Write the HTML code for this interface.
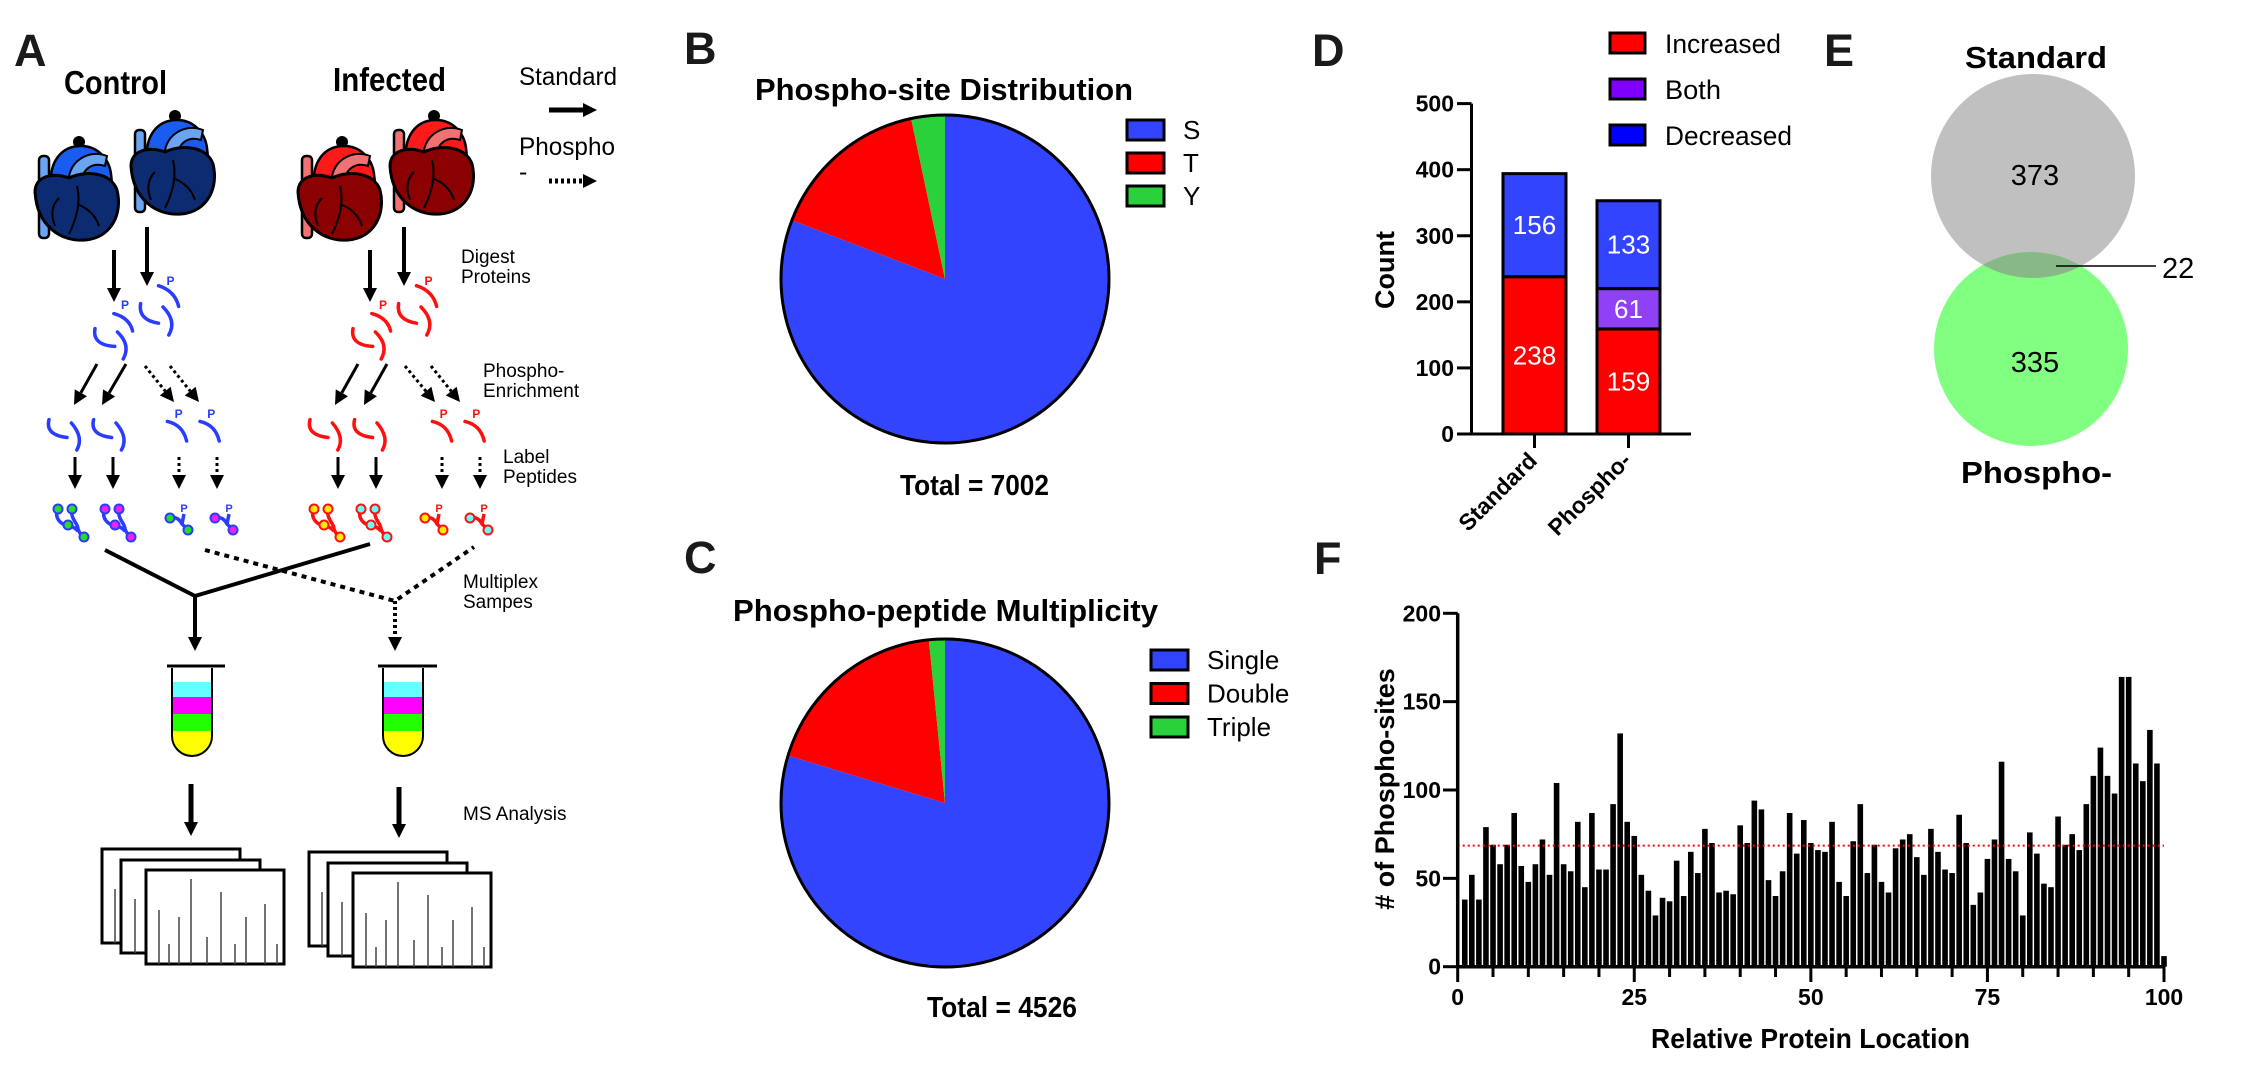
<!DOCTYPE html>
<html><head><meta charset="utf-8"><title>Phosphoproteomics figure</title>
<style>
html,body{margin:0;padding:0;background:#fff;}
svg{display:block;font-family:"Liberation Sans",Arial,sans-serif;}
.b{font-weight:bold;}
</style></head>
<body>
<svg id="fig" width="2250" height="1076" viewBox="0 0 2250 1076" xmlns="http://www.w3.org/2000/svg">
<rect width="2250" height="1076" fill="#fff"/>
<defs>
  <clipPath id="tubeL"><path d="M172,668 L172,736 A20,20 0 0 0 212,736 L212,668 Z"/></clipPath>
  <clipPath id="tubeR"><path d="M383,668 L383,736 A20,20 0 0 0 423,736 L423,668 Z"/></clipPath>
  <clipPath id="grayC"><circle cx="2033" cy="176" r="102"/></clipPath>
</defs>

<text x="14" y="66" font-size="45" class="b" fill="#1a1a1a">A</text>
<text x="684" y="64" font-size="45" class="b" fill="#1a1a1a">B</text>
<text x="684" y="573" font-size="45" class="b" fill="#1a1a1a">C</text>
<text x="1312" y="66" font-size="45" class="b" fill="#1a1a1a">D</text>
<text x="1824" y="66" font-size="45" class="b" fill="#1a1a1a">E</text>
<text x="1314" y="574" font-size="45" class="b" fill="#1a1a1a">F</text>

<g id="panelA">
<text x="64" y="94" font-size="33" class="b" textLength="103" lengthAdjust="spacingAndGlyphs">Control</text>
<text x="333" y="91" font-size="33" class="b" textLength="113" lengthAdjust="spacingAndGlyphs">Infected</text>
<text x="519" y="85" font-size="25" textLength="98" lengthAdjust="spacingAndGlyphs">Standard</text>
<text x="519" y="155" font-size="25" textLength="96" lengthAdjust="spacingAndGlyphs">Phospho</text>
<text x="519" y="180" font-size="25">-</text>
<text font-size="19"><tspan x="461" y="263">Digest</tspan><tspan x="461" y="283">Proteins</tspan></text>
<text font-size="19"><tspan x="483" y="377">Phospho-</tspan><tspan x="483" y="397">Enrichment</tspan></text>
<text font-size="19"><tspan x="503" y="463">Label</tspan><tspan x="503" y="483">Peptides</tspan></text>
<text font-size="19"><tspan x="463" y="588">Multiplex</tspan><tspan x="463" y="608">Sampes</tspan></text>
<text x="463" y="820" font-size="19">MS Analysis</text>

<polyline points="105,550 195,596 370,544" fill="none" stroke="#000" stroke-width="4"/>
<polyline points="205,550 395,601 474,547" fill="none" stroke="#000" stroke-width="4" stroke-dasharray="5,5"/>

<g>
  <g clip-path="url(#tubeL)">
    <rect x="170" y="668" width="45" height="14" fill="#fff"/>
    <rect x="170" y="682" width="45" height="15" fill="#66ffff"/>
    <rect x="170" y="697" width="45" height="17" fill="#ff00ff"/>
    <rect x="170" y="714" width="45" height="17" fill="#22ff00"/>
    <rect x="170" y="731" width="45" height="30" fill="#ffff00"/>
  </g>
  <path d="M172,668 L172,736 A20,20 0 0 0 212,736 L212,668" fill="none" stroke="#000" stroke-width="2"/>
  <line x1="167" y1="666" x2="225" y2="666" stroke="#000" stroke-width="3"/>
</g>
<g>
  <g clip-path="url(#tubeR)">
    <rect x="381" y="668" width="45" height="14" fill="#fff"/>
    <rect x="381" y="682" width="45" height="15" fill="#66ffff"/>
    <rect x="381" y="697" width="45" height="17" fill="#ff00ff"/>
    <rect x="381" y="714" width="45" height="17" fill="#22ff00"/>
    <rect x="381" y="731" width="45" height="30" fill="#ffff00"/>
  </g>
  <path d="M383,668 L383,736 A20,20 0 0 0 423,736 L423,668" fill="none" stroke="#000" stroke-width="2"/>
  <line x1="378" y1="666" x2="437" y2="666" stroke="#000" stroke-width="3"/>
</g>
</g>

<text x="755" y="100" font-size="31" class="b" textLength="378" lengthAdjust="spacingAndGlyphs">Phospho-site Distribution</text>
<text x="900" y="495" font-size="29" class="b" textLength="149" lengthAdjust="spacingAndGlyphs">Total = 7002</text>
<text x="733" y="621" font-size="31" class="b" textLength="425" lengthAdjust="spacingAndGlyphs">Phospho-peptide Multiplicity</text>
<text x="927" y="1017" font-size="29" class="b" textLength="150" lengthAdjust="spacingAndGlyphs">Total = 4526</text>

<text transform="translate(1394,270) rotate(-90)" font-size="27" class="b" text-anchor="middle">Count</text>

<g>
<text x="1965" y="68" font-size="31" class="b" textLength="142" lengthAdjust="spacingAndGlyphs">Standard</text>
<circle cx="2033" cy="176" r="102" fill="#c0c0c0"/>
<circle cx="2031" cy="349" r="97" fill="#80ff80"/>
<circle cx="2031" cy="349" r="97" fill="#88b888" clip-path="url(#grayC)"/>
<text x="2035" y="185" font-size="29" text-anchor="middle">373</text>
<text x="2035" y="372" font-size="29" text-anchor="middle">335</text>
<line x1="2056" y1="266" x2="2156" y2="266" stroke="#000" stroke-width="1.5"/>
<text x="2162" y="278" font-size="29">22</text>
<text x="1961" y="483" font-size="31" class="b" textLength="151" lengthAdjust="spacingAndGlyphs">Phospho-</text>
</g>

<text transform="translate(1394,789) rotate(-90)" font-size="27" class="b" text-anchor="middle"># of Phospho-sites</text>
<text x="1651" y="1048" font-size="28" class="b" textLength="319" lengthAdjust="spacingAndGlyphs">Relative Protein Location</text>

<g id="dyn"></g>
</svg>

<script>
const pieBLabels = ['S', 'T', 'Y'];
const pieBValues = [5660, 1110, 232];
const pieCLabels = ['Single', 'Double', 'Triple'];
const pieCValues = [3606, 849, 71];

const dCategories = ['Standard', 'Phospho-'];
const dIncreased = [238, 159];
const dBoth = [0, 61];
const dDecreased = [156, 133];
const dTicks = [0, 100, 200, 300, 400, 500];
const dLegend = ['Increased', 'Both', 'Decreased'];

const fValues = [38,52,38,79,69,58,69,87,57,48,58,72,52,104,58,54,82,45,87,55,
                 55,92,132,82,74,52,43,29,39,37,60,40,65,53,78,70,42,43,41,80,
                 70,94,89,49,40,54,87,64,83,70,66,65,82,48,40,71,92,53,69,48,
                 42,67,72,75,62,52,78,65,55,53,86,70,35,42,61,72,116,61,54,29,
                 76,64,47,45,85,69,75,66,92,108,124,108,98,164,164,115,105,134,115,6];
const fMean = 68.5;
const fXTicks = [0, 25, 50, 75, 100];
const fYTicks = [0, 50, 100, 150, 200];

const NS = 'http://www.w3.org/2000/svg';
const root = document.getElementById('dyn');
const panelA = document.getElementById('panelA');
function mk(tag, attrs, parent) {
  const e = document.createElementNS(NS, tag);
  for (const k in attrs) e.setAttribute(k, attrs[k]);
  (parent || root).appendChild(e);
  return e;
}
function txt(str, attrs, parent) { const t = mk('text', attrs, parent); t.textContent = str; return t; }

function arrow(x1, y1, x2, y2, dotted, w, name) {
  const g = mk('g', {}, panelA);
  
  
  const dx = x2 - x1, dy = y2 - y1, L = Math.hypot(dx, dy), ux = dx / L, uy = dy / L;
  const hl = 14, hw = 7;
  const bx = x2 - ux * hl, by = y2 - uy * hl;
  const ln = mk('line', {x1: x1, y1: y1, x2: bx, y2: by, stroke: '#000', 'stroke-width': w || 4}, g);
  if (dotted) ln.setAttribute('stroke-dasharray', '3,3');
  mk('polygon', {points: `${x2},${y2} ${bx - uy * hw},${by + ux * hw} ${bx + uy * hw},${by - ux * hw}`, fill: '#000'}, g);
}
arrow(549, 110, 597, 110, false, 5, 'legend-standard-arrow');
arrow(549, 181, 597, 181, true, 5, 'legend-phospho-arrow');
[[114,250,114,302],[147,227,147,286],[370,250,370,302],[404,227,404,286]].forEach(a => arrow(a[0],a[1],a[2],a[3],false,4,'digest-arrow'));
[[97,364,74,405],[126,364,102,405],[358,364,335,405],[387,364,364,405]].forEach(a => arrow(a[0],a[1],a[2],a[3],false,3,'standard-path-arrow'));
[[145,366,174,402],[170,366,199,402],[405,366,435,402],[431,366,460,402]].forEach(a => arrow(a[0],a[1],a[2],a[3],true,3,'phospho-path-arrow'));
[75,113,338,376].forEach(x => arrow(x, 457, x, 489, false, 3, 'label-arrow'));
[179,217,442,480].forEach(x => arrow(x, 457, x, 489, true, 3, 'phospho-label-arrow'));
arrow(195, 596, 195, 651, false, 4, 'standard-to-tube-arrow');
arrow(395, 601, 395, 651, true, 4, 'phospho-to-tube-arrow');
arrow(191, 784, 191, 836, false, 5, 'standard-ms-arrow');
arrow(399, 787, 399, 838, false, 5, 'phospho-ms-arrow');

function heart(x, y, dark, mid, light, name) {
  const g = mk('g', {transform: `translate(${x},${y})`}, panelA);
  
  
  mk('rect', {x: 10, y: 22, width: 10, height: 82, rx: 4, fill: light, stroke: '#000', 'stroke-width': 2.5}, g);
  mk('circle', {cx: 50, cy: 8, r: 6, fill: '#000'}, g);
  mk('path', {d: 'M22,52 C20,28 32,12 52,12 C68,12 80,24 82,40 L84,58 Z', fill: mid, stroke: '#000', 'stroke-width': 2.5}, g);
  mk('path', {d: 'M40,42 C44,24 62,16 78,22 L76,32 C64,28 54,34 52,48 Z', fill: light, stroke: '#000', 'stroke-width': 2}, g);
  mk('path', {d: 'M6,58 C6,42 24,38 40,44 C56,36 82,38 88,56 C94,80 82,104 56,106 C32,108 8,92 6,58 Z', fill: dark, stroke: '#000', 'stroke-width': 3}, g);
  mk('path', {d: 'M48,52 C52,68 48,84 40,100 M48,70 C58,74 66,80 70,92 M30,64 C22,72 22,82 26,92', fill: 'none', stroke: '#000', 'stroke-width': 2}, g);
}
heart(125, 108, '#0c2b70', '#1a5cf0', '#6aa4f2', 'control-heart-2');
heart(29, 134, '#0c2b70', '#1a5cf0', '#6aa4f2', 'control-heart-1');
heart(384, 108, '#8b0000', '#ff1a1a', '#f07272', 'infected-heart-2');
heart(292, 134, '#8b0000', '#ff1a1a', '#f07272', 'infected-heart-1');

function frag(p, color, dx, name) {
  const e = mk('path', {d: `M${p[0]+dx},${p[1]} Q${p[4]+dx},${p[5]} ${p[2]+dx},${p[3]}`, fill: 'none', stroke: color, 'stroke-width': 3.5, 'stroke-linecap': 'round'}, panelA);
  
  
}
function plabel(x, y, color) {
  const t = txt('P', {x: x, y: y, 'font-size': 12, 'font-weight': 'bold', fill: color, 'text-anchor': 'middle'}, panelA);
  
  
}
const digestFrags = [[158.5,285.7,178.6,306.4,175,291],[140.6,303.6,158.5,323.2,138,320],[163,307,168.8,335,177,321],
                     [113.8,313.6,132.6,331,129.5,317.9],[95,328.6,114.7,346.4,92,345],[117.4,332,123.2,359,131,345]];
[[0,'#2a3cff'],[258,'#ff1010']].forEach(([dx,c]) => {
  digestFrags.forEach(p => frag(p, c, dx, 'digested-peptide'));
  plabel(170.5 + dx, 285, c); plabel(125 + dx, 309, c);
});
const row2Frags = [[49,419.6,67,437.5,45,435],[71.4,423,76.8,450,84,437.5],[93.6,419.6,111.6,437.5,89.6,435],[116,423,121.4,450,128.6,437.5]];
const row2Phos = [[167.4,421.4,186.6,441,183,425],[200,421.4,219.2,441,215.6,425]];
[[0,0,'#2a3cff'],[261,265,'#ff1010']].forEach(([dx,dp,c]) => {
  row2Frags.forEach(p => frag(p, c, dx, 'enriched-peptide'));
  row2Phos.forEach(p => frag(p, c, dp, 'phospho-peptide'));
  plabel(178.6 + dp, 418, c); plabel(211.2 + dp, 418, c);
});
function labeled(x, y, color, dot, dbl, name) {
  const g = mk('g', {transform: `translate(${x},${y})`}, panelA);
  
  
  if (dbl) {
    mk('path', {d: 'M4,4 C0,12 6,20 14,20 M18,4 C16,14 24,18 24,24 C26,30 30,32 30,32 M14,20 C20,22 22,24 24,26', fill: 'none', stroke: color, 'stroke-width': 3.5}, g);
    [[4,4],[14,20],[18,4],[30,32]].forEach(c => mk('circle', {cx: c[0], cy: c[1], r: 4.5, fill: dot, stroke: color, 'stroke-width': 2}, g));
  } else {
    mk('path', {d: 'M4,10 C10,8 14,12 16,16 L22,22 M16,16 L18,6', fill: 'none', stroke: color, 'stroke-width': 3.5}, g);
    [[4,10],[22,22]].forEach(c => mk('circle', {cx: c[0], cy: c[1], r: 4.5, fill: dot, stroke: color, 'stroke-width': 2}, g));
    txt('P', {x: 18, y: 4, 'font-size': 11, 'font-weight': 'bold', fill: color, 'text-anchor': 'middle'}, g);
  }
}
labeled(54, 505, '#2a3cff', '#22dd22', true, 'labeled-peptide');
labeled(101, 505, '#2a3cff', '#ee22ee', true, 'labeled-peptide');
labeled(166, 508, '#2a3cff', '#22dd22', false, 'labeled-phospho-peptide');
labeled(211, 508, '#2a3cff', '#ee22ee', false, 'labeled-phospho-peptide');
labeled(310, 505, '#ff1010', '#ffee00', true, 'labeled-peptide');
labeled(357, 505, '#ff1010', '#66ffff', true, 'labeled-peptide');
labeled(421, 508, '#ff1010', '#ffee00', false, 'labeled-phospho-peptide');
labeled(466, 508, '#ff1010', '#66ffff', false, 'labeled-phospho-peptide');

const specX = [159,169,179,191,207,221,235,246,265,277];
const specTop = [910,944,917,879,937,892,944,917,904,944];
function spectra(dx, dy, name) {
  const g = mk('g', {}, panelA);
  
  
  mk('rect', {x: 102+dx, y: 849+dy, width: 138, height: 94, fill: '#fff', stroke: '#000', 'stroke-width': 3}, g);
  mk('line', {x1: 115+dx, y1: 889+dy, x2: 115+dx, y2: 943+dy, stroke: '#444', 'stroke-width': 1.5}, g);
  mk('rect', {x: 121+dx, y: 860+dy, width: 139, height: 93, fill: '#fff', stroke: '#000', 'stroke-width': 3}, g);
  mk('line', {x1: 135+dx, y1: 899+dy, x2: 135+dx, y2: 953+dy, stroke: '#444', 'stroke-width': 1.5}, g);
  mk('rect', {x: 146+dx, y: 870+dy, width: 138, height: 94, fill: '#fff', stroke: '#000', 'stroke-width': 3}, g);
  specX.forEach((x, i) => mk('line', {x1: x+dx, y1: specTop[i]+dy, x2: x+dx, y2: 964+dy, stroke: '#444', 'stroke-width': 1.5}, g));
}
spectra(0, 0, 'standard-ms-spectra');
spectra(207, 3, 'phospho-ms-spectra');

const pieColors = ['#3344ff', '#ff0000', '#2ad13a'];
function pie(cx, cy, r, labels, values, lx, ly, lstep, name) {
  const total = values.reduce((a, b) => a + b, 0);
  let a0 = -Math.PI / 2;
  values.forEach((v, i) => {
    const a1 = a0 + v / total * 2 * Math.PI;
    const large = (a1 - a0) > Math.PI ? 1 : 0;
    const p = mk('path', {d: `M${cx},${cy} L${cx + r * Math.cos(a0)},${cy + r * Math.sin(a0)} A${r},${r} 0 ${large} 1 ${cx + r * Math.cos(a1)},${cy + r * Math.sin(a1)} Z`, fill: pieColors[i]});
    
    
    a0 = a1;
    const box = mk('rect', {x: lx, y: ly + i * lstep, width: 37, height: 20, fill: pieColors[i], stroke: '#000', 'stroke-width': 3});
    
    
    const t = txt(labels[i], {x: lx + 56, y: ly + i * lstep + 19, 'font-size': 26});
    
    
  });
  const c = mk('circle', {cx: cx, cy: cy, r: r, fill: 'none', stroke: '#000', 'stroke-width': 3});
  
  
}
pie(945, 279, 164, pieBLabels, pieBValues, 1127, 120, 33, 'pie-b');
pie(945, 803, 164, pieCLabels, pieCValues, 1151, 650, 33.5, 'pie-c');

const dY0 = 434, dYpx = (434 - 103.6) / 500;
const dyS = v => dY0 - v * dYpx;
const dBarX = [1503, 1597], dBarW = 63, dTickX = [1534.5, 1628.5];
const dColors = ['#ff0000', '#9040f5', '#3344ff'];
const dSeries = [dIncreased, dBoth, dDecreased];
dCategories.forEach((cat, i) => {
  let base = 0;
  dSeries.forEach((ser, s) => {
    const v = ser[i];
    if (v <= 0) return;
    const r = mk('rect', {x: dBarX[i], y: dyS(base + v), width: dBarW, height: v * dYpx, fill: dColors[s], stroke: '#000', 'stroke-width': 3});
    
    
    const t = txt(String(v), {x: dBarX[i] + dBarW / 2, y: dyS(base + v / 2) + 9, 'font-size': 26, fill: '#fff', 'text-anchor': 'middle'});
    
    
    base += v;
  });
  const tk = mk('line', {x1: dTickX[i], y1: dY0, x2: dTickX[i], y2: 448, stroke: '#000', 'stroke-width': 3});
  
  
  const xl = txt(cat, {transform: `translate(${dTickX[i] + 4},${462}) rotate(-45)`, 'font-size': 23, 'font-weight': 'bold', 'text-anchor': 'end'});
  
  
});
const dAxis = mk('path', {d: `M1471.5,${dyS(500)} L1471.5,${dY0} L1691,${dY0}`, fill: 'none', stroke: '#000', 'stroke-width': 3});


dTicks.forEach(v => {
  const l = mk('line', {x1: 1457, y1: dyS(v), x2: 1471.5, y2: dyS(v), stroke: '#000', 'stroke-width': 3});
  
  
  const t = txt(String(v), {x: 1454, y: dyS(v) + 8, 'font-size': 23, 'font-weight': 'bold', 'text-anchor': 'end'});
  
  
});
const dLegendColors = ['#ff0000', '#7f00ff', '#0000ff'];
const dLegendWidths = [116, 56, 127];
dLegend.forEach((name, i) => {
  const r = mk('rect', {x: 1610, y: 33 + i * 46, width: 35, height: 20, fill: dLegendColors[i], stroke: '#000', 'stroke-width': 3});
  
  
  const t = txt(name, {x: 1665, y: 53 + i * 46, 'font-size': 27, textLength: dLegendWidths[i], lengthAdjust: 'spacingAndGlyphs'});
  
  
});

const fX0 = 1457.7, fXpx = 7.063, fY0 = 966.7, fYpx = 1.767;
const fx = v => fX0 + v * fXpx;
const fy = v => fY0 - v * fYpx;
fValues.forEach((v, i) => {
  const loc = i + 1;
  const r = mk('rect', {x: fx(loc) - 2.8, y: fy(v), width: 5.6, height: v * fYpx, fill: '#000'});
  
  
});
const mean = mk('line', {x1: fx(0), y1: fy(fMean), x2: fx(100), y2: fy(fMean), stroke: '#ff0000', 'stroke-width': 2, 'stroke-dasharray': '2,3'});


const fAxis = mk('path', {d: `M${fX0},${fy(200)} L${fX0},${fY0} L${fx(100) + 1},${fY0}`, fill: 'none', stroke: '#000', 'stroke-width': 3.5});


fYTicks.forEach(v => {
  const l = mk('line', {x1: 1443, y1: fy(v), x2: fX0, y2: fy(v), stroke: '#000', 'stroke-width': 3});
  
  
  const t = txt(String(v), {x: 1441, y: fy(v) + 8, 'font-size': 23, 'font-weight': 'bold', 'text-anchor': 'end'});
  
  
});
for (let m = 0; m <= 100; m += 5) {
  const major = fXTicks.indexOf(m) >= 0;
  const l = mk('line', {x1: fx(m), y1: fY0, x2: fx(m), y2: major ? 982 : 977, stroke: '#000', 'stroke-width': 3});
  
  
}
fXTicks.forEach(v => {
  const t = txt(String(v), {x: fx(v), y: 1005, 'font-size': 23, 'font-weight': 'bold', 'text-anchor': 'middle'});
  
  
});
</script>
</body></html>
